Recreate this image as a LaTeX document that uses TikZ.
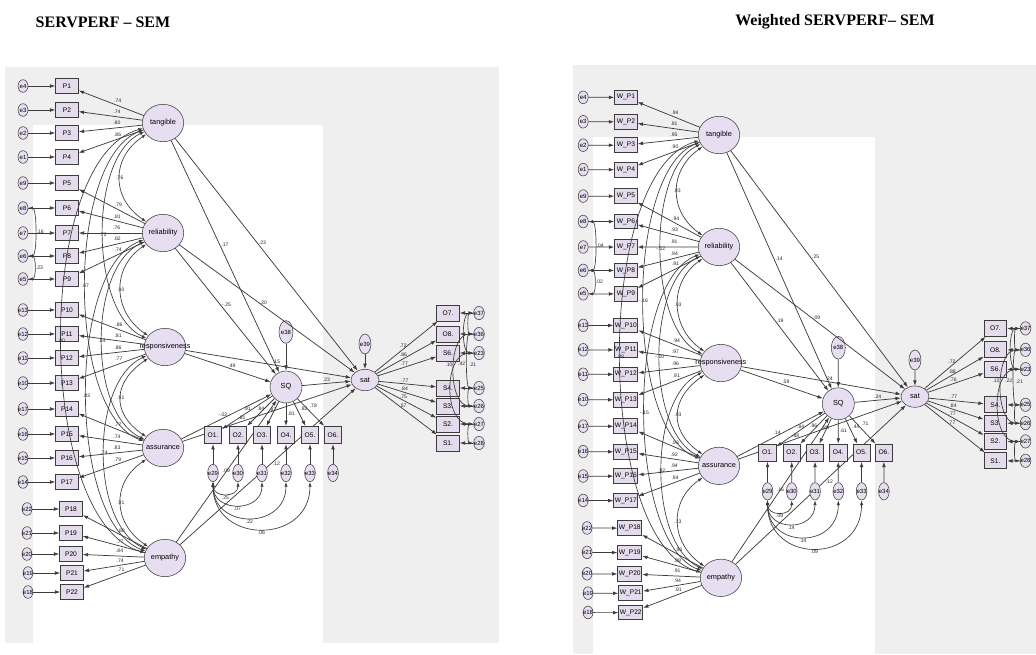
\documentclass[tikz,border=0pt]{standalone}
\usepackage{fontspec}
\setmainfont{Liberation Serif}
\newfontfamily\amos{Liberation Sans}
\usepackage{tikz}
\usetikzlibrary{shapes.geometric, arrows.meta, positioning}
\definecolor{panelgray}{HTML}{EFEFEF}
\definecolor{latentfill}{HTML}{E8DEF1}
\definecolor{boxfill}{HTML}{E4DCEC}
\definecolor{linegray}{HTML}{3C3C3C}

\newcommand{\ename}[1]{\makebox[0pt]{#1}}

% one AMOS path diagram; the label lists are set before it is called
\newcommand{\semmodel}[1]{%
  % error terms and item boxes
  \foreach \i/\e/\y/\dx in {1/e4/86/0, 2/e3/110/0, 3/e2/133/0, 4/e1/157/0,
      5/e9/183/0, 6/e8/208/0, 7/e7/233/0, 8/e6/256/0, 9/e5/279/0,
      10/e13/310/0, 11/e12/334/0, 12/e11/358/0, 13/e10/383/0,
      14/e17/409/0, 15/e16/434/0, 16/e15/458/0, 17/e14/482/0,
      18/e22/509/4, 19/e21/533/4, 20/e20/554/4, 21/e19/573/5, 22/e18/592/5} {
    \node[errvar] (\e) at (23+\dx,\y) {\ename{\e}};
    \node[item] (P\i) at (67+\dx,\y) {#1\i};
    \draw[reg] (\e) -- (P\i);
  }
  % factors
  \node[latent] (tan) at (163,123) {\ename{tangible}};
  \node[latent] (rel) at (163,233) {\ename{reliability}};
  \node[latent] (res) at (165,347) {\ename{responsiveness}};
  \node[latent] (ass) at (163,448) {\ename{assurance}};
  \node[latent] (emp) at (165,558) {\ename{empathy}};
  \foreach \f/\i/\l in \loadings
    \draw[reg] (\f) -- node[wt, pos=.4, above=1pt] {\l} (P\i);
  \foreach \a/\b/\d/\l in \factorcov
    \draw[cov] (\a) .. controls +(-\d,35) and +(-\d,-35) .. (\b)
      node[wt, pos=.5] {\l};
  % correlated errors
  \draw[cov] (e8.east) .. controls +(9,0) and +(9,0) .. (e6.east)
    node[wt, pos=.5, anchor=west] {\errcovA};
  \draw[cov] (e6.east) .. controls +(8,0) and +(8,0) .. (e5.east)
    node[wt, pos=.5, anchor=west] {\errcovB};
  % structural part
  \node[errbig] (e38) at (286,332) {\ename{e38}};
  \node[sqnode] (SQ) at (286,387) {SQ};
  \node[errmid] (e39) at (365,344) {\ename{e39}};
  \node[satnode] (sat) at (365,380) {sat};
  \draw[reg] (e38) -- (SQ);
  \draw[reg] (e39) -- (sat);
  \foreach \a/\b/\p/\s/\l in \structural
    \draw[reg] (\a) -- node[wt, pos=\p, anchor=\s] {\l} (\b);
  % SQ indicators
  \foreach \j/\x in {1/213, 2/238, 3/262, 4/286, 5/310, 6/333} {
    \pgfmathtruncatemacro\k{28+\j}
    \node[obox] (O\j) at (\x,435) {O\j.};
    \node[errsmall] (e\k) at (\x,473) {\ename{e\k}};
    \draw[reg] (e\k) -- (O\j);
  }
  \foreach \j/\p/\s/\l in \sqitems
    \draw[reg] (SQ) -- node[wt, pos=\p, anchor=\s] {\l} (O\j);
  \foreach \k/\d/\l in \residcov
    \draw[cov] (e29.south) .. controls +(0,\d) and +(0,\d) .. (e\k.south)
      node[wt, pos=.5, anchor=north] {\l};
  % sat indicators
  \foreach \n/\txt/\y/\e/\l in \satitems {
    \node[ibox] (\n) at (448,\y) {\txt};
    \node[errtiny] (\e) at (479,\y) {\ename{\e}};
    \draw[reg] (\e) -- (\n);
    \draw[reg] (sat) -- node[wt, pos=.45, anchor=south] {\l} (\n);
  }
  \foreach \a/\b/\d/\p/\s/\l in \satcov
    \draw[cov] (\a.west) .. controls +(-\d,0) and +(-\d,0) .. (\b.west)
      node[wt, pos=\p, anchor=\s] {\l};
}

\begin{document}
\begin{tikzpicture}[x=0.75pt, y=-0.75pt,
    title/.style={font=\bfseries\fontsize{12}{14}\selectfont},
    reg/.style={-{Latex[length=4pt,width=2.8pt]}, draw=linegray, line width=0.55pt},
    cov/.style={{Latex[length=3.5pt,width=2.4pt]}-{Latex[length=3.5pt,width=2.4pt]}, draw=linegray, line width=0.5pt},
    wt/.style={font=\amos\fontsize{3.8}{4}\selectfont, inner sep=1pt, text=black!85},
    latent/.style={ellipse, draw=linegray, fill=latentfill, minimum width=31pt, minimum height=28pt, inner sep=0pt, font=\amos\fontsize{5.5}{6}\selectfont},
    item/.style={rectangle, draw=linegray, line width=0.6pt, fill=boxfill, minimum width=17pt, minimum height=11pt, inner sep=0.8pt, font=\amos\fontsize{5}{6}\selectfont},
    errvar/.style={ellipse, draw=linegray, fill=latentfill, minimum width=7.5pt, minimum height=9.5pt, inner sep=0pt, font=\amos\fontsize{4.5}{5}\selectfont},
    errbig/.style={errvar, minimum width=10.5pt, minimum height=17pt},
    errmid/.style={errvar, minimum width=9pt, minimum height=15pt},
    errsmall/.style={errvar, minimum width=8pt, minimum height=13pt},
    errtiny/.style={errvar, minimum width=8pt, minimum height=10pt},
    sqnode/.style={circle, draw=linegray, fill=latentfill, minimum size=24pt, inner sep=0pt, font=\amos\fontsize{5.5}{6}\selectfont},
    satnode/.style={latent, minimum width=21pt, minimum height=16pt},
    obox/.style={item, minimum width=13pt, minimum height=13pt},
    ibox/.style={item, minimum width=17pt, minimum height=12pt}]
\useasboundingbox (0,0) rectangle (1036,654);
% panel backgrounds
\fill[panelgray] (5,67) rectangle (499,643);
\fill[white] (33,125) rectangle (323,654);
\fill[panelgray] (573,65) rectangle (1036,654);
\fill[white] (593,137) rectangle (875,654);
\node[title] (t1) at (103,22) {SERVPERF – SEM};
\node[title] (t2) at (835,22) {Weighted SERVPERF– SEM};

\begin{scope}[name prefix=L-]
  \def\loadings{tan/1/.74, tan/2/.74, tan/3/.80, tan/4/.86, rel/5/.79, rel/6/.81,
    rel/7/.76, rel/8/.82, rel/9/.74, res/10/.86, res/11/.81, res/12/.86, res/13/.77,
    ass/14/.77, ass/15/.74, ass/16/.83, ass/17/.79, emp/18/.80, emp/19/.77,
    emp/20/.84, emp/21/.74, emp/22/.71}
  \def\factorcov{tan/rel/52/.76, rel/res/52/.90, res/ass/52/.91, ass/emp/52/.91,
    tan/res/75/.72, rel/ass/75/.84, res/emp/75/.74, tan/ass/97/.67, rel/emp/97/.83,
    tan/emp/130/.80}
  \def\errcovA{.16}
  \def\errcovB{.23}
  \def\structural{tan/SQ/.45/west/.17, tan/sat/.45/west/.23, rel/SQ/.45/west/-.25,
    rel/sat/.45/west/.20, res/SQ/.55/south/.49, res/sat/.55/south/.15,
    ass/SQ/.46/south/-.02, ass/sat/.35/south/.81, emp/SQ/.5/center/.09,
    emp/sat/.52/west/.12, SQ/sat/.5/south/.23}
  \def\sqitems{1/.5/south/.91, 2/.5/south/.84, 3/.5/south/.87, 4/.45/west/.81,
    5/.45/south west/.82, 6/.4/south west/.78}
  \def\residcov{30/16/.25, 31/31/.07, 32/48/.22, 33/63/.06}
  \def\satitems{o7/O7./313/e37/.72, o8/O8./334/e36/.86, s6/S6./353/e23/.77,
    s4/S4./388/e25/.77, s3/S3./406/e26/.84, s2/S2./424/e27/.75, s1/S1./443/e28/.57}
  \def\satcov{e37/e36/6/.5/center/{}, e37/e23/12/.5/center/{},
    e36/e26/26/.45/east/.10, e23/e27/30/.25/west/.42, e36/e25/8/.55/west/.21,
    e25/e26/6/.5/center/{}, e27/e28/6/.5/center/{}}
  \semmodel{P}
\end{scope}

\begin{scope}[name prefix=R-, shift={(719,135)}, xscale=0.97, yscale=1.018, shift={(-163,-123)}]
  \def\loadings{tan/1/.94, tan/2/.91, tan/3/.95, tan/4/.90, rel/5/.94, rel/6/.93,
    rel/7/.91, rel/8/.94, rel/9/.91, res/10/.94, res/11/.97, res/12/.96, res/13/.91,
    ass/14/.93, ass/15/.92, ass/16/.94, ass/17/.94, emp/18/.93, emp/19/.89,
    emp/20/.91, emp/21/.94, emp/22/.91}
  \def\factorcov{tan/rel/52/.93, rel/res/52/.93, res/ass/52/.93, ass/emp/52/.13,
    tan/res/75/-.12, rel/ass/75/-.10, res/emp/75/.92, tan/ass/97/-.16, rel/emp/97/-.15,
    tan/emp/130/.89}
  \def\errcovA{.04}
  \def\errcovB{.02}
  \def\structural{tan/SQ/.45/west/.14, tan/sat/.45/west/.25, rel/SQ/.45/west/.19,
    rel/sat/.45/west/.09, res/SQ/.55/south/.59, res/sat/.55/south/.24,
    ass/SQ/.46/south/.14, ass/sat/.35/south/.88, emp/SQ/.5/center/.16,
    emp/sat/.52/west/.12, SQ/sat/.5/south/.24}
  \def\sqitems{1/.5/south/.84, 2/.5/south/.86, 3/.5/south/.88, 4/.45/west/.61,
    5/.45/south west/.44, 6/.4/south west/.71}
  \def\residcov{30/16/.09, 31/31/.14, 32/48/.14, 33/63/.09}
  \def\satitems{o7/O7./313/e37/.72, o8/O8./334/e36/.88, s6/S6./353/e23/.76,
    s4/S4./388/e25/.77, s3/S3./406/e26/.84, s2/S2./424/e27/.77, s1/S1./443/e28/.77}
  \def\satcov{e37/e36/6/.5/center/{}, e37/e23/12/.5/center/{},
    e36/e26/26/.45/east/.12, e23/e27/30/.25/west/.22, e36/e25/8/.55/west/.21,
    e25/e26/6/.5/center/{}, e27/e28/6/.5/center/{}}
  \semmodel{W\_P}
\end{scope}
\end{tikzpicture}
\end{document}
